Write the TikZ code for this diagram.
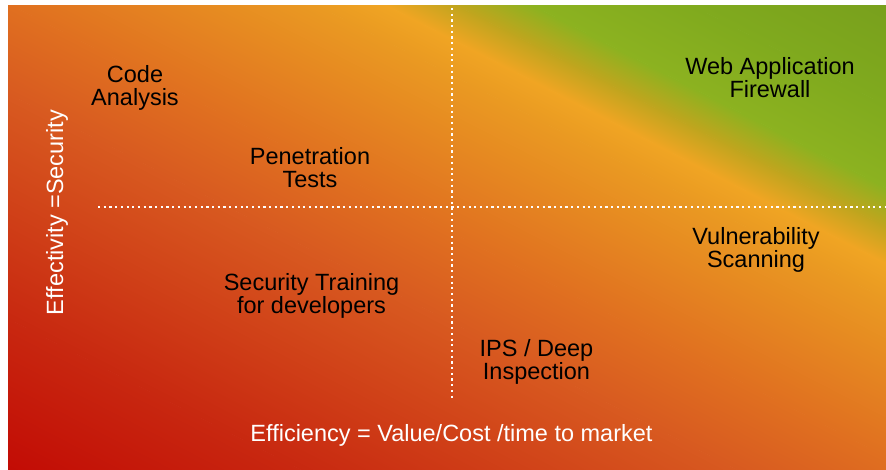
\documentclass[tikz,border=0pt]{standalone}
\usepackage{fontspec}
\setmainfont{Liberation Sans}
\definecolor{g0}{RGB}{192,0,0}
\definecolor{g1}{RGB}{200,40,16}
\definecolor{g2}{RGB}{216,90,32}
\definecolor{g3}{RGB}{224,112,32}
\definecolor{g4}{RGB}{234,154,34}
\definecolor{g5}{RGB}{240,165,35}
\definecolor{g6}{RGB}{192,165,30}
\definecolor{g7}{RGB}{140,178,32}
\definecolor{g8}{RGB}{128,170,30}
\definecolor{g9}{RGB}{105,140,25}
\begin{document}
\begin{tikzpicture}[x=1pt,y=1pt,
  lbl/.style={font=\fontsize{23.5}{23}\selectfont, align=center, anchor=base, inner sep=0pt, text=black},
  axlbl/.style={font=\fontsize{23.5}{23}\selectfont, text=white, inner sep=0pt, anchor=base},
  dotline/.style={white, line width=2.2pt, dash pattern=on 2.2pt off 3.5pt}]
\useasboundingbox (0,0) rectangle (886,470);
\begin{scope}
  \clip (8,0) rectangle (886,464);
  \begin{scope}[transform canvas={rotate=62.7}]
    \shade[left color=g0,right color=g1] (-50,-900) rectangle (138.5,400);
    \shade[left color=g1,right color=g2] (138,-900) rectangle (338.5,400);
    \shade[left color=g2,right color=g3] (338,-900) rectangle (418.5,400);
    \shade[left color=g3,right color=g4] (418,-900) rectangle (558.5,400);
    \shade[left color=g4,right color=g5] (558,-900) rectangle (590.5,400);
    \shade[left color=g5,right color=g6] (590,-900) rectangle (622.5,400);
    \shade[left color=g6,right color=g7] (622,-900) rectangle (657.5,400);
    \shade[left color=g7,right color=g8] (657,-900) rectangle (730.5,400);
    \shade[left color=g8,right color=g9] (730,-900) rectangle (1000,400);
  \end{scope}
\end{scope}
% dotted axes
\coordinate (vtop) at (452,462);
\coordinate (vbot) at (452,72);
\coordinate (hleft) at (98,263);
\coordinate (hright) at (886,263);
\draw[dotline] (vtop) -- (vbot);
\draw[dotline] (hleft) -- (hright);
% labels (anchor base = baseline of last line)
\node[lbl] (code) at (135,364) {Code\\Analysis};
\node[lbl] (pen) at (310,282) {Penetration\\Tests};
\node[lbl] (waf) at (770,372) {Web Application\\Firewall};
\node[lbl] (vuln) at (756,202) {Vulnerability\\Scanning};
\node[lbl] (train) at (311.5,156) {Security Training\\for developers};
\node[lbl] (ips) at (536.5,90) {IPS / Deep\\Inspection};
% axis labels
\node[axlbl] (xlab) at (451.5,28) {Efficiency = Value/Cost /time to market};
\node[axlbl, rotate=90] (ylab) at (63,257.5) {Effectivity =Security};
\end{tikzpicture}
\end{document}
